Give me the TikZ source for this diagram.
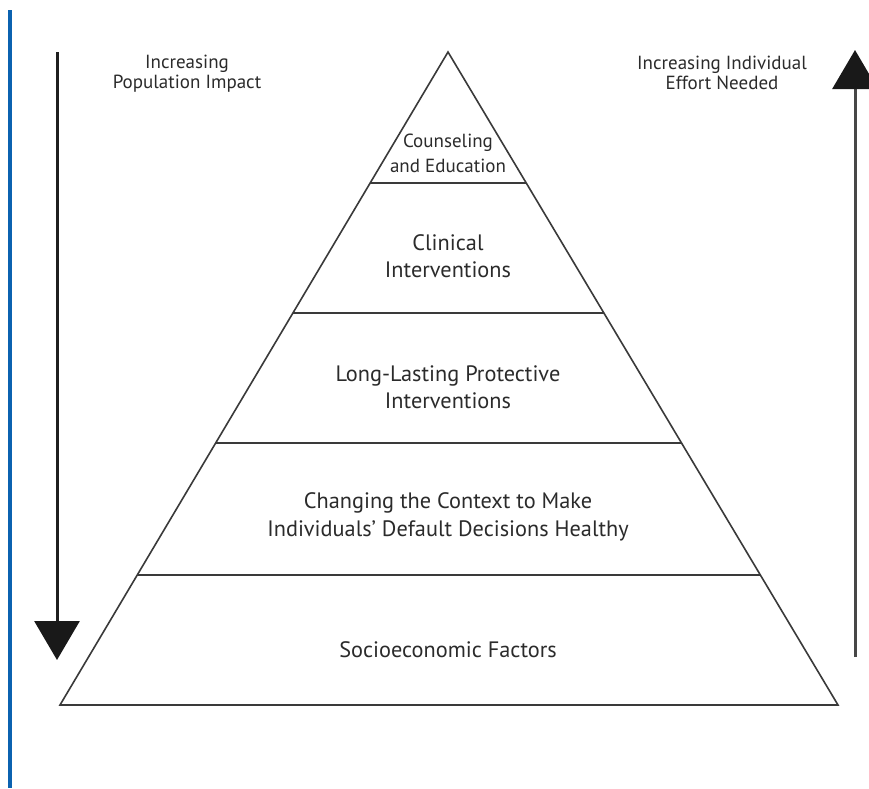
\documentclass[tikz,border=0pt]{standalone}
\usepackage{fontspec}
\setmainfont{PT Sans}
\usetikzlibrary{arrows.meta}
\definecolor{txt}{HTML}{2B2B2B}
\definecolor{edge}{HTML}{3A3A3A}
\definecolor{bluebar}{HTML}{0B62B0}
\begin{document}
\begin{tikzpicture}[x=1pt,y=-1pt,
  band/.style={draw=edge,line width=1.6pt},
  lbl/.style={text=txt,align=center,inner sep=0pt,font=\fontsize{22.3}{27.5}\selectfont},
  small/.style={text=txt,align=center,inner sep=0pt,font=\fontsize{19}{20}\selectfont},
  tiny/.style={text=txt,align=center,inner sep=0pt,font=\fontsize{19}{25}\selectfont},
  bigarrow/.style={line width=3pt,-{Triangle[width=45pt,length=39pt,color=black!90]}}]
\useasboundingbox (0,0) rectangle (869,788);
\fill[white] (0,0) rectangle (869,788);
% blue margin bar
\fill[bluebar] (8,10) rectangle (12,788);
% pyramid
\coordinate (apex) at (448,52);
\coordinate (bl) at (60,705);
\coordinate (br) at (838,705);
\draw[band,line join=miter] (apex) -- (bl) -- (br) -- cycle;
\foreach \yy in {183,313,443,575}{
  \draw[band] ({448-(\yy-52)*0.5942},\yy) -- ({448+(\yy-52)*0.5972},\yy);
}
% labels
\node[tiny] (t1) at (448,153) {Counseling\\and Education};
\node[lbl] (t2) at (448,256) {Clinical\\Interventions};
\node[lbl] (t3) at (448,387) {Long-Lasting Protective\\Interventions};
\node[lbl] (t4) at (448,517) {Changing the Context to Make\\Individuals’ Default Decisions Healthy};
\node[lbl] (t5) at (448,650) {Socioeconomic Factors};
\node[small] (lt) at (187,74) {Increasing\\Population Impact};
\node[small] (rt) at (722,73) {Increasing Individual\\Effort Needed};
% arrows
\coordinate (la1) at (57,52);
\coordinate (la2) at (57,660);
\coordinate (ra1) at (855,657);
\coordinate (ra2) at (855,50);
\draw[bigarrow,draw={black!88}] (la1) -- (la2);
\draw[bigarrow,draw={black!72}] (ra1) -- (ra2);
\end{tikzpicture}
\end{document}
